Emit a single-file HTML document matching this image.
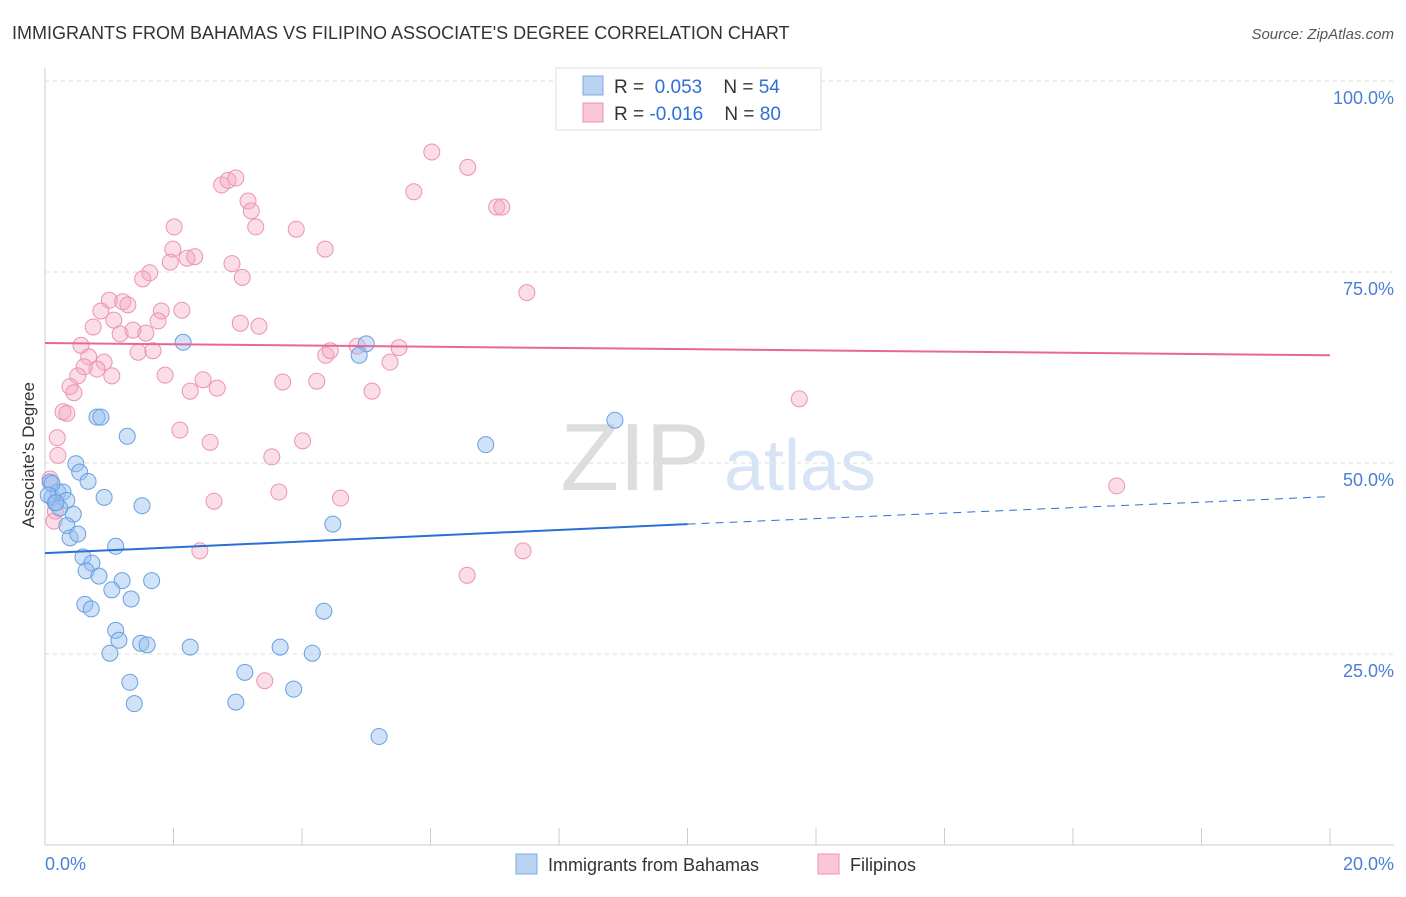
<!DOCTYPE html>
<html><head><meta charset="utf-8"><style>
body{margin:0;background:#fff;font-family:"Liberation Sans",sans-serif;}
svg text{font-family:"Liberation Sans",sans-serif;}
</style></head><body>
<svg id="chart" width="1406" height="892">
<text x="12" y="39" font-size="18" fill="#333">IMMIGRANTS FROM BAHAMAS VS FILIPINO ASSOCIATE'S DEGREE CORRELATION CHART</text>
<text x="1394" y="39" font-size="15" fill="#555" font-style="italic" text-anchor="end">Source: ZipAtlas.com</text>
<g id="grid"></g>
<text x="635" y="490" font-size="96" fill="#ddd" font-family="Liberation Serif" text-anchor="middle">ZIP</text>
<text x="800" y="490" font-size="72" fill="#d6e4f5" text-anchor="middle">atlas</text>
<g id="pts"></g>
<g id="lines"></g>
<text transform="translate(34,455) rotate(-90)" font-size="17" fill="#333" text-anchor="middle">Associate's Degree</text>
<text x="45" y="870" font-size="18" fill="#4a7fd4">0.0%</text>
<text x="1394" y="870" font-size="18" fill="#4a7fd4" text-anchor="end">20.0%</text>
<g>
<rect x="556" y="68" width="265" height="62" fill="#fff" stroke="#ddd"/>
<rect x="583" y="76" width="20" height="19" fill="#b9d3f3" stroke="#7fa9e0"/>
<text x="614" y="93" font-size="19" fill="#333">R = <tspan fill="#2e6fd8">&#160;0.053</tspan>&#160;&#160;&#160;&#160;N = <tspan fill="#2e6fd8">54</tspan></text>
<rect x="583" y="103" width="20" height="19" fill="#f9c7d6" stroke="#ec93b1"/>
<text x="614" y="120" font-size="19" fill="#333">R = <tspan fill="#2e6fd8">-0.016</tspan>&#160;&#160;&#160;&#160;N = <tspan fill="#2e6fd8">80</tspan></text>
</g>
<g>
<rect x="516" y="854" width="21" height="20" fill="#b9d3f3" stroke="#7fa9e0"/>
<text x="548" y="871" font-size="18" fill="#333">Immigrants from Bahamas</text>
<rect x="818" y="854" width="21" height="20" fill="#f9c7d6" stroke="#ec93b1"/>
<text x="850" y="871" font-size="18" fill="#333">Filipinos</text>
</g>
</svg>
<script>
const yTicks=[25,50,75,100];
const yTickLabels=["25.0%","50.0%","75.0%","100.0%"];
const xTicks=[0,2,4,6,8,10,12,14,16,18,20];
const bahamasX=[0.08,0.11,0.16,0.2,0.28,0.34,0.11,0.23,0.44,0.34,0.39,0.51,0.48,0.54,0.67,0.92,0.81,0.87,1.28,1.51,1.1,0.59,0.73,0.64,0.84,1.2,1.66,1.04,1.34,0.62,0.72,1.1,1.15,1.49,1.59,1.01,1.32,1.39,2.26,3.11,3.66,4.16,3.87,2.97,5.2,4.34,2.15,5.0,4.89,4.48,6.86,8.87,0.05,0.17];
const bahamasY=[47.5,45.5,44.8,46.2,46.2,45.1,47.3,44.1,43.3,41.8,40.2,40.7,49.9,48.8,47.6,45.5,56.0,56.0,53.5,44.4,39.1,37.7,36.9,35.9,35.2,34.6,34.6,33.4,32.2,31.5,30.9,28.1,26.8,26.4,26.2,25.1,21.3,18.5,25.9,22.6,25.9,25.1,20.4,18.7,14.2,30.6,65.8,65.6,64.1,42.0,52.4,55.6,45.8,44.8];
const filipinoX=[6.02,6.58,5.74,7.03,7.11,2.75,2.85,2.97,3.16,3.21,3.28,3.91,2.01,1.99,1.95,2.21,2.33,1.63,1.52,2.91,3.07,4.36,7.5,1.0,1.21,1.29,0.87,1.81,2.13,1.76,1.07,0.75,1.17,1.37,1.57,3.04,3.33,0.56,1.45,1.68,0.68,0.92,0.81,1.04,0.61,0.51,4.37,4.44,4.86,5.51,5.37,1.87,2.46,2.26,2.68,3.7,4.23,5.09,0.39,0.45,0.28,0.34,11.74,2.1,2.57,4.01,3.53,3.64,2.63,4.6,16.68,0.19,0.2,0.08,0.16,7.44,6.57,2.41,3.42,0.14];
const filipinoY=[90.7,88.7,85.5,83.5,83.5,86.4,87.0,87.3,84.3,83.0,80.9,80.6,80.9,78.0,76.3,76.8,77.0,74.9,74.1,76.1,74.3,78.0,72.3,71.3,71.1,70.7,69.9,69.9,70.0,68.6,68.7,67.8,66.9,67.4,67.0,68.3,67.9,65.4,64.5,64.7,63.9,63.2,62.3,61.4,62.6,61.4,64.1,64.7,65.3,65.1,63.2,61.5,60.9,59.4,59.8,60.6,60.7,59.4,60.0,59.2,56.7,56.5,58.4,54.3,52.7,52.9,50.8,46.2,45.0,45.4,47.0,53.3,51.0,47.9,43.7,38.5,35.3,38.5,21.5,42.4];
const bahamasTrend=[38.2,42.0,45.6]; // at x=0,10,20
const filipinoTrend=[65.7,64.1]; // at x=0,20
const X0=45,X1=1330,Y0=845,Y100=81;
const sx=v=>X0+(v/20)*(X1-X0);
const sy=v=>Y0-(v/100)*(Y0-Y100);
const NS="http://www.w3.org/2000/svg";
function mk(tag,attrs,parent){const e=document.createElementNS(NS,tag);for(const k in attrs)e.setAttribute(k,attrs[k]);parent.appendChild(e);return e;}
const grid=document.getElementById('grid');
let ax=mk('line',{x1:X0,y1:68,x2:X0,y2:Y0,stroke:'#ccc'},grid);


let bx=mk('line',{x1:X0,y1:Y0,x2:1394,y2:Y0,stroke:'#ccc'},grid);


yTicks.forEach((t,i)=>{
 const g=mk('line',{x1:X0,y1:sy(t),x2:1394,y2:sy(t),stroke:'#ddd','stroke-dasharray':'4,4'},grid);
 
 
 const l=mk('text',{x:1394,y:sy(t)+23,'font-size':18,fill:'#4a7fd4','text-anchor':'end'},grid);
 l.textContent=yTickLabels[i];
 
 
});
xTicks.forEach(t=>{
 const k=mk('line',{x1:sx(t),y1:828,x2:sx(t),y2:Y0,stroke:'#ccc'},grid);
 
 
});
const pts=document.getElementById('pts');
filipinoX.forEach((x,i)=>{
 const c=mk('circle',{cx:sx(x),cy:sy(filipinoY[i]),r:8,fill:'rgba(245,170,195,0.4)',stroke:'#ec93b1','stroke-width':1},pts);
 
 
});
bahamasX.forEach((x,i)=>{
 const c=mk('circle',{cx:sx(x),cy:sy(bahamasY[i]),r:8,fill:'rgba(150,190,240,0.45)',stroke:'#6a9fe0','stroke-width':1},pts);
 
 
});
const lines=document.getElementById('lines');
let b1=mk('line',{x1:sx(0),y1:sy(bahamasTrend[0]),x2:sx(10),y2:sy(bahamasTrend[1]),stroke:'#2a6fd6','stroke-width':2},lines);


let b2=mk('line',{x1:sx(10),y1:sy(bahamasTrend[1]),x2:sx(20),y2:sy(bahamasTrend[2]),stroke:'#2a6fd6','stroke-width':1,'stroke-dasharray':'8,6'},lines);


let p1=mk('line',{x1:sx(0),y1:sy(filipinoTrend[0]),x2:sx(20),y2:sy(filipinoTrend[1]),stroke:'#e8679a','stroke-width':2},lines);


</script>
</body></html>
